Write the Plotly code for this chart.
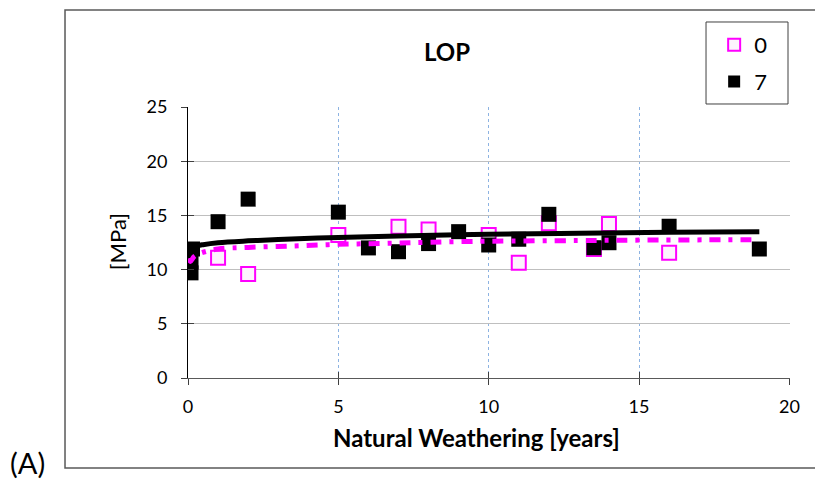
import plotly.graph_objects as go

# ---- data ----
x_0 = [0.05, 0.05, 1, 2, 5, 7, 8, 10, 11, 12, 13.5, 14, 16]
y_0 = [11.4, 10.9, 11.1, 9.6, 13.2, 13.96, 13.7, 13.2, 10.64, 14.27, 11.9, 14.2, 11.56]

x_7 = [0.1, 0.1, 0.15, 1, 2, 5, 6, 7, 8, 9, 10, 11, 12, 13.5, 14, 16, 19]
y_7 = [9.7, 10.7, 11.9, 14.42, 16.5, 15.3, 12.0, 11.65, 12.4, 13.5, 12.27, 12.8, 15.1, 12.02, 12.48, 14.0, 11.9]

# trend lines
trend7_x = [0.03, 0.1, 0.25, 0.5, 1, 2, 3, 5, 7, 10, 13, 16, 19]
trend7_y = [11.75, 11.95, 12.15, 12.3, 12.48, 12.65, 12.77, 12.97, 13.1, 13.26, 13.36, 13.44, 13.5]

trend0_x = [0.02, 0.08, 0.2, 0.4, 1, 2, 3.5, 5, 6.5, 8, 10, 13, 15, 19]
trend0_y = [11.05, 10.75, 11.2, 11.5, 11.9, 12.05, 12.18, 12.33, 12.42, 12.52, 12.62, 12.68, 12.72, 12.76]

x_ticks = [0, 5, 10, 15, 20]
y_ticks = [0, 5, 10, 15, 20, 25]

FONT = "Lato"
MAG = "#ff00ff"

fig = go.Figure()
fig.add_trace(go.Scatter(
    x=x_0, y=y_0, mode="markers", name="0", legendgroup="a",
    marker=dict(symbol="square", size=14, color="#fdf4fd",
                line=dict(color=MAG, width=2)),
))
fig.add_trace(go.Scatter(
    x=x_7, y=y_7, mode="markers", name="7", legendgroup="b",
    marker=dict(symbol="square", size=15, color="black",
                line=dict(color="black", width=0)),
))
fig.add_trace(go.Scatter(
    x=trend7_x, y=trend7_y, mode="lines", showlegend=False,
    line=dict(color="black", width=5, shape="spline"),
))
fig.add_trace(go.Scatter(
    x=trend0_x, y=trend0_y, mode="lines", showlegend=False,
    line=dict(color=MAG, width=5, dash="11px,8px,4px,8px", shape="spline"),
))
# overlay axes only for the inner halves of the crossing ticks
fig.add_trace(go.Scatter(x=[], y=[], xaxis="x2", yaxis="y2", showlegend=False))

fig.update_layout(
    width=815, height=471,
    margin=dict(l=180, r=33, t=99, b=101),
    paper_bgcolor="white", plot_bgcolor="white",
    font=dict(family=FONT, size=18, color="black"),
    showlegend=True,
    legend=dict(
        x=0.874, y=1.306, xanchor="left", yanchor="top",
        borderwidth=0,
        font=dict(size=22, family=FONT),
        tracegroupgap=5, bgcolor="rgba(0,0,0,0)",
        itemsizing="constant",
    ),
    xaxis=dict(
        range=[0, 20.02], tickvals=x_ticks, ticks="outside", ticklen=6,
        tickcolor="#404040", showline=True, linecolor="#595959", linewidth=1,
        showgrid=True, gridcolor="#8db3e2", griddash="dot", gridwidth=1,
        zeroline=False, tickfont=dict(size=18), ticklabelstandoff=6,
    ),
    yaxis=dict(
        range=[0, 25], tickvals=y_ticks, ticks="outside", ticklen=6,
        tickcolor="#404040", showline=True, linecolor="black", linewidth=1,
        showgrid=True, gridcolor="#bfbfbf", gridwidth=1,
        zeroline=False, tickfont=dict(size=18), ticklabelstandoff=10,
    ),
    xaxis2=dict(
        overlaying="x", range=[0, 20.02], tickvals=x_ticks, ticks="inside", ticklen=6,
        tickcolor="#404040", showticklabels=False, showgrid=False, zeroline=False,
        showline=False, side="bottom", anchor="y2",
    ),
    yaxis2=dict(
        overlaying="y", range=[0, 25], tickvals=y_ticks, ticks="inside", ticklen=6,
        tickcolor="#404040", showticklabels=False, showgrid=False, zeroline=False,
        showline=False, side="left", anchor="x2",
    ),
    annotations=[
        dict(text="<b>LOP</b>", x=0.43, y=1.203, xref="paper", yref="paper",
             showarrow=False, font=dict(size=24, family=FONT),
             xanchor="center", yanchor="middle"),
        dict(text="<b>Natural Weathering [years]</b>", x=0.48, y=-0.218,
             xref="paper", yref="paper", showarrow=False,
             font=dict(size=24, family=FONT), xanchor="center", yanchor="middle"),
        dict(text="[MPa]", x=-0.116, y=0.502, xref="paper", yref="paper",
             showarrow=False, textangle=-90, font=dict(size=22, family=FONT),
             xanchor="center", yanchor="middle"),
        dict(text="(A)", x=-0.266, y=-0.31, xref="paper", yref="paper",
             showarrow=False, font=dict(size=29, family=FONT),
             xanchor="center", yanchor="middle"),
    ],
    shapes=[
        dict(type="rect", xref="paper", yref="paper",
             x0=-0.2043, x1=1.0532, y0=-0.332, y1=1.358,
             line=dict(color="#595959", width=1.5), layer="below"),
        dict(type="rect", xref="paper", yref="paper",
             x0=0.8605, x1=0.9967, y0=1.0111, y1=1.3137,
             line=dict(color="#404040", width=1), layer="below"),
    ],
)

fig.write_html("out.html")
